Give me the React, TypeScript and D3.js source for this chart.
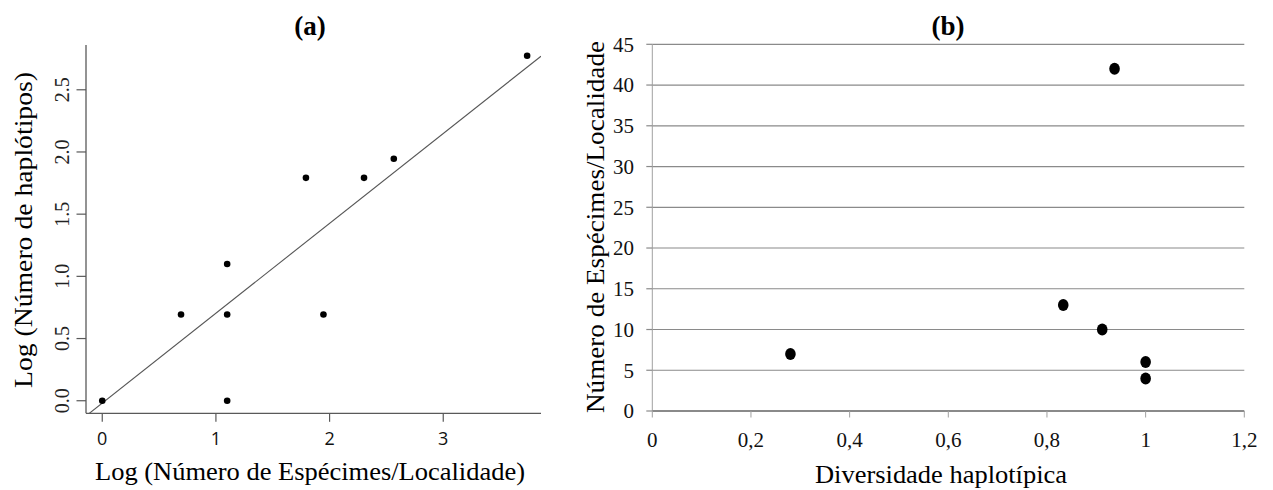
import React from "react";
import * as d3 from "d3";

// ---------- Panel (a) data ----------
const logSpecimens = [0, 0.693, 1.099, 1.099, 1.099, 1.946, 1.792, 2.303, 2.565, 3.738];
const logHaplotypes = [0, 0.693, 1.099, 0.693, 0, 0.693, 1.792, 1.792, 1.946, 2.773];
const regIntercept = -0.019;
const regSlope = 0.7225;
const aXTicks = [0, 1, 2, 3];
const aYTicks = [0, 0.5, 1.0, 1.5, 2.0, 2.5];

// ---------- Panel (b) data ----------
const hapDiversity = [0.28, 0.833, 0.912, 1.0, 1.0, 0.937];
const specimensPerLocality = [7, 13, 10, 6, 4, 42];
const bXTicks = [0, 0.2, 0.4, 0.6, 0.8, 1, 1.2];
const bYTicks = [0, 5, 10, 15, 20, 25, 30, 35, 40, 45];

const SERIF = "'Liberation Serif', 'Times New Roman', serif";
const SANS = "'Open Sans', 'Liberation Sans', sans-serif";

export default function App() {
  // Panel (a) scales
  const ax = d3.scaleLinear().domain([-0.143, 3.86]).range([86, 541]);
  const ay = d3.scaleLinear().domain([-0.101, 2.86]).range([413.3, 45]);
  const [xd0, xd1] = ax.domain();
  const regLine = d3.line<number>()
    .x((d) => ax(d))
    .y((d) => ay(regIntercept + regSlope * d));

  // Panel (b) scales
  const bx = d3.scaleLinear().domain([0, 1.2]).range([652.3, 1244.3]);
  const by = d3.scaleLinear().domain([0, 45]).range([411, 44.3]);

  const fmtComma = (v: number) => String(v).replace(".", ",");

  const axisGrey = "#595959";
  const gridGrey = "#8a8a8a";

  return (
    <svg
      width={1273}
      height={490}
      style={{ position: "absolute", left: 0, top: 0, background: "#fff" }}
    >
      <defs>
        <clipPath id="clipA">
          <rect x={ax.range()[0]} y={ay.range()[1]} width={ax.range()[1] - ax.range()[0]} height={ay.range()[0] - ay.range()[1]} />
        </clipPath>
      </defs>

      {/* ================= Panel (a) ================= */}
      <text x={310} y={35} textAnchor="middle" fontFamily={SERIF} fontWeight="bold" fontSize={27}>(a)</text>

      {/* axes (L-shaped box) */}
      <line x1={ax.range()[0]} x2={ax.range()[0]} y1={ay.range()[1]} y2={ay.range()[0]} stroke={axisGrey} strokeWidth={1.3} />
      <line x1={ax.range()[0]} x2={ax.range()[1]} y1={ay.range()[0]} y2={ay.range()[0]} stroke={axisGrey} strokeWidth={1.3} />

      {/* y ticks */}
      {aYTicks.map((t) => (
        <g key={"ay" + t}>
          <line x1={76.5} x2={ax.range()[0]} y1={ay(t)} y2={ay(t)} stroke={axisGrey} strokeWidth={1.2} />
          <text
            transform={`translate(69,${ay(t)}) rotate(-90)`}
            textAnchor="middle"
            fontFamily={SERIF}
            fontSize={20}
            fill="#222"
          >
            {t.toFixed(1)}
          </text>
        </g>
      ))}

      {/* x ticks */}
      {aXTicks.map((t) => (
        <g key={"ax" + t}>
          <line x1={ax(t)} x2={ax(t)} y1={ay.range()[0]} y2={ay.range()[0] + 8.5} stroke={axisGrey} strokeWidth={1.2} />
          <text x={ax(t)} y={445} textAnchor="middle" fontFamily={SANS} fontSize={18} fill="#111">{t}</text>
        </g>
      ))}

      {/* regression line */}
      <path d={regLine([xd0, xd1]) || ""} fill="none" stroke="#555" strokeWidth={1.1} clipPath="url(#clipA)" />

      {/* points */}
      {logSpecimens.map((v, i) => (
        <circle key={"pa" + i} cx={ax(v)} cy={ay(logHaplotypes[i])} r={3.3} fill="#000" />
      ))}

      {/* axis titles */}
      <text x={310} y={480} textAnchor="middle" fontFamily={SERIF} fontSize={26} textLength={430} lengthAdjust="spacingAndGlyphs">
        Log (Número de Espécimes/Localidade)
      </text>
      <text
        transform={`translate(32,230) rotate(-90)`}
        textAnchor="middle"
        fontFamily={SERIF}
        fontSize={26}
        textLength={316}
        lengthAdjust="spacingAndGlyphs"
      >
        Log (Número de haplótipos)
      </text>

      {/* ================= Panel (b) ================= */}
      <text x={948} y={35} textAnchor="middle" fontFamily={SERIF} fontWeight="bold" fontSize={27}>(b)</text>

      {/* gridlines */}
      {bYTicks.filter((t) => t > 0).map((t) => (
        <line key={"bg" + t} x1={bx.range()[0]} x2={bx.range()[1]} y1={by(t)} y2={by(t)} stroke={gridGrey} strokeWidth={1.2} />
      ))}

      {/* y axis */}
      <line x1={bx.range()[0]} x2={bx.range()[0]} y1={by.range()[1]} y2={by.range()[0]} stroke="#a0a0a0" strokeWidth={1} />
      {bYTicks.map((t) => (
        <g key={"by" + t}>
          <line x1={646.3} x2={bx.range()[0]} y1={by(t)} y2={by(t)} stroke={gridGrey} strokeWidth={1.2} />
          <text x={634} y={by(t)} dy="0.35em" textAnchor="end" fontFamily={SERIF} fontSize={21} fill="#111">{t}</text>
        </g>
      ))}

      {/* x axis */}
      <line x1={bx.range()[0]} x2={bx.range()[1]} y1={by(0)} y2={by(0)} stroke={gridGrey} strokeWidth={2.2} />
      {bXTicks.map((t) => (
        <g key={"bx" + t}>
          <line x1={bx(t)} x2={bx(t)} y1={by(0)} y2={by(0) + 6.5} stroke="#a0a0a0" strokeWidth={1} />
          <text x={bx(t)} y={447} textAnchor="middle" fontFamily={SERIF} fontSize={21} fill="#111">{fmtComma(t)}</text>
        </g>
      ))}

      {/* points */}
      {hapDiversity.map((v, i) => (
        <ellipse key={"pb" + i} cx={bx(v)} cy={by(specimensPerLocality[i])} rx={5.3} ry={6} fill="#000" />
      ))}

      {/* axis titles */}
      <text x={941} y={483} textAnchor="middle" fontFamily={SERIF} fontSize={26} textLength={252} lengthAdjust="spacingAndGlyphs">
        Diversidade haplotípica
      </text>
      <text
        transform={`translate(604,227) rotate(-90)`}
        textAnchor="middle"
        fontFamily={SERIF}
        fontSize={26}
        textLength={372}
        lengthAdjust="spacingAndGlyphs"
      >
        Número de Espécimes/Localidade
      </text>
    </svg>
  );
}
